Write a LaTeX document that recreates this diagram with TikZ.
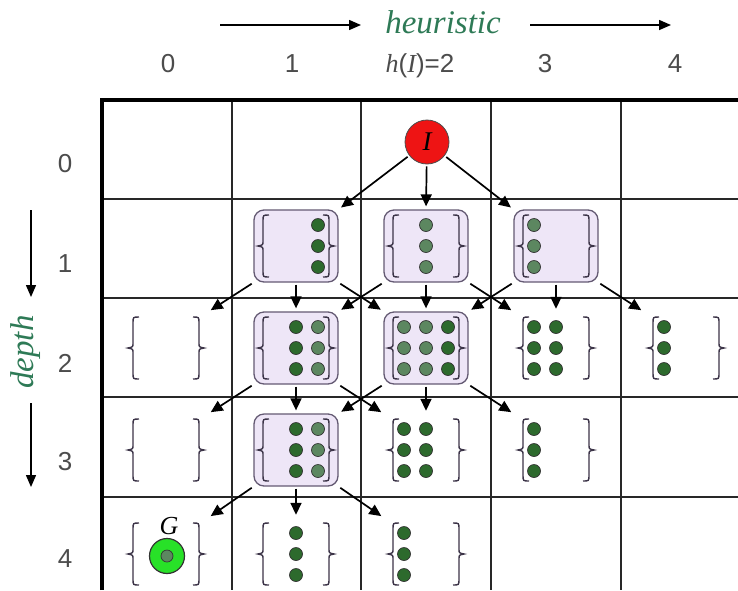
\documentclass[tikz,border=0pt]{standalone}
\usepackage{fontspec}
\setmainfont{Liberation Sans}
\newfontfamily\tnr{Liberation Serif}
\usetikzlibrary{arrows.meta}
\definecolor{labgreen}{RGB}{46,122,86}
\definecolor{boxfill}{RGB}{238,230,247}
\definecolor{boxline}{RGB}{100,90,115}
\definecolor{bracecol}{RGB}{60,52,72}
\definecolor{dotdark}{RGB}{45,106,45}
\definecolor{dotlight}{RGB}{92,135,96}
\definecolor{goalgreen}{RGB}{40,225,40}
\definecolor{startred}{RGB}{238,20,20}
\definecolor{gridcol}{RGB}{40,40,40}
\tikzset{
  setnode/.style={minimum width=84pt, minimum height=72pt, inner sep=0pt},
  boxset/.style={setnode, draw=boxline, fill=boxfill, rounded corners=10pt, line width=1.3pt},
  plainset/.style={setnode},
  dotD/.style={fill=dotdark, draw=black!80, line width=0.7pt},
  dotL/.style={fill=dotlight, draw=black!80, line width=0.7pt},
  bracestyle/.style={draw=bracecol, line width=1.4pt},
  arr/.style={-{Triangle[length=12pt,width=11pt]}, line width=1.7pt, shorten <=2pt, shorten >=3pt},
  labarr/.style={-{Triangle[length=12pt,width=10pt]}, line width=1.5pt},
  numlab/.style={font=\fontsize{26}{28}\selectfont, text=black!70, anchor=base},
  axislab/.style={font=\fontsize{33}{36}\selectfont\tnr\itshape, text=labgreen},
  startnode/.style={circle, fill=startred, draw=black!70, line width=0.8pt, minimum size=44pt, inner sep=0pt, font=\fontsize{27}{28}\selectfont\tnr\itshape},
  goalnode/.style={circle, fill=goalgreen, draw=black!80, line width=1.2pt, minimum size=35pt, inner sep=0pt}
}
\newcommand\bracesat[2]{%
  \begin{scope}[shift={(#1,#2)}]
    \draw[bracestyle] (-27,-31) .. controls (-33,-31) .. (-33,-25) -- (-33,-5) .. controls (-33,-1) .. (-38,0) .. controls (-33,1) .. (-33,5) -- (-33,25) .. controls (-33,31) .. (-27,31);
    \draw[bracestyle] (27,-31) .. controls (33,-31) .. (33,-25) -- (33,-5) .. controls (33,-1) .. (38,0) .. controls (33,1) .. (33,5) -- (33,25) .. controls (33,31) .. (27,31);
  \end{scope}}
\newcommand\dotcol[4]{%
  \begin{scope}[shift={(#1,#2)}]
    \foreach \dy in {-21,0,21} {\draw[#4] (#3,\dy) circle (6.5pt);}
  \end{scope}}
\begin{document}
\begin{tikzpicture}[x=1pt,y=-1pt]
\useasboundingbox (0,0) rectangle (738,590);
\fill[white] (0,0) rectangle (738,590);
% grid
\foreach \gx in {232,361,491,621} {\draw[gridcol, line width=1.5pt] (\gx,100) -- (\gx,590);}
\foreach \gy in {199,298,397,497} {\draw[gridcol, line width=1.5pt] (102,\gy) -- (738,\gy);}
\draw[black, line width=4pt, line join=miter] (102,590) -- (102,100) -- (738,100);
% top labels
\node[numlab] (h0) at (168,72) {0};
\node[numlab] (h1) at (292,72) {1};
\node[numlab] (h2) at (420,72) {{\tnr\itshape h}({\tnr\itshape I})=2};
\node[numlab] (h3) at (545,72) {3};
\node[numlab] (h4) at (675,72) {4};
\node[axislab, anchor=base] (heur) at (443,33) {heuristic};
\coordinate (ha1) at (220,25); \coordinate (hb1) at (361,25);
\coordinate (ha2) at (530,25); \coordinate (hb2) at (671,25);
\draw[labarr] (ha1) -- (hb1);
\draw[labarr] (ha2) -- (hb2);
% left labels
\node[numlab] (d0) at (65,172) {0};
\node[numlab] (d1) at (65,272) {1};
\node[numlab] (d2) at (65,372) {2};
\node[numlab] (d3) at (65,470) {3};
\node[numlab] (d4) at (65,567) {4};
\node[axislab, rotate=90] (depth) at (26,352) {depth};
\coordinate (da1) at (31,210); \coordinate (db1) at (31,297);
\coordinate (da2) at (31,403); \coordinate (db2) at (31,487);
\draw[labarr] (da1) -- (db1);
\draw[labarr] (da2) -- (db2);
% set nodes
\node[boxset] (s11) at (296,246) {};
\node[boxset] (s12) at (426,246) {};
\node[boxset] (s13) at (556,246) {};
\node[plainset] (s20) at (166,348) {};
\node[boxset] (s21) at (296,348) {};
\node[boxset] (s22) at (426,348) {};
\node[plainset] (s23) at (556,348) {};
\node[plainset] (s24) at (686,348) {};
\node[plainset] (s30) at (166,450) {};
\node[boxset] (s31) at (296,450) {};
\node[plainset] (s32) at (426,450) {};
\node[plainset] (s33) at (556,450) {};
\node[plainset] (s40) at (166,554) {};
\node[plainset] (s41) at (296,554) {};
\node[plainset] (s42) at (426,554) {};
% braces
\foreach \cx/\cy in {296/246,426/246,556/246,166/348,296/348,426/348,556/348,686/348,166/450,296/450,426/450,556/450,166/554,296/554,426/554} {\bracesat{\cx}{\cy}}
% dots
\dotcol{296}{246}{22}{dotD}
\dotcol{426}{246}{0}{dotL}
\dotcol{556}{246}{-22}{dotL}
\dotcol{296}{348}{0}{dotD}
\dotcol{296}{348}{22}{dotL}
\dotcol{426}{348}{-22}{dotL}
\dotcol{426}{348}{0}{dotL}
\dotcol{426}{348}{22}{dotD}
\dotcol{556}{348}{-22}{dotD}
\dotcol{556}{348}{0}{dotD}
\dotcol{686}{348}{-22}{dotD}
\dotcol{296}{450}{0}{dotD}
\dotcol{296}{450}{22}{dotL}
\dotcol{426}{450}{-22}{dotD}
\dotcol{426}{450}{0}{dotD}
\dotcol{556}{450}{-22}{dotD}
\dotcol{296}{554}{0}{dotD}
\dotcol{426}{554}{-22}{dotD}
% start and goal
\node[startnode] (I) at (427,142) {I};
\node[goalnode] (G) at (167,556) {};
\draw[dotL] (G.center) circle (6pt);
\node[font=\fontsize{26}{28}\selectfont\tnr\itshape] (Glab) at (169,526) {G};
% arrows
\draw[arr] (I) -- (s11.north east);
\draw[arr] (I) -- (s12.north);
\draw[arr] (I) -- (s13.north west);
\foreach \src/\l/\m/\r in {s11/s20/s21/s22, s12/s21/s22/s23, s13/s22/s23/s24, s21/s30/s31/s32, s22/s31/s32/s33, s31/s40/s41/s42} {
  \draw[arr] (\src.south west) -- (\l.north east);
  \draw[arr] (\src.south) -- (\m.north);
  \draw[arr] (\src.south east) -- (\r.north west);
}
\end{tikzpicture}
\end{document}
